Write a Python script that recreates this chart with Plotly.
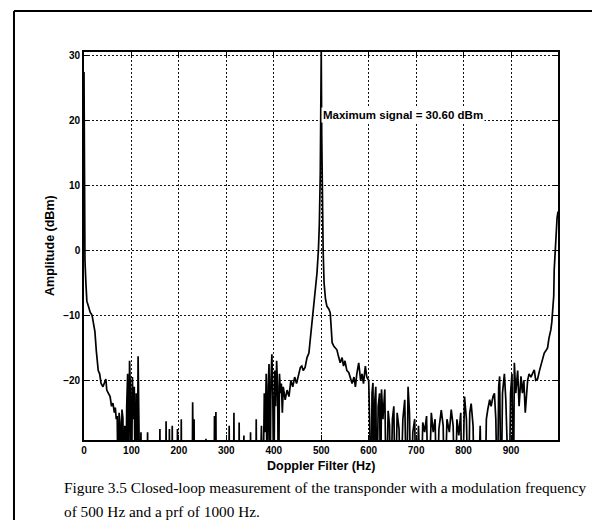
import plotly.graph_objects as go

# Doppler filter spectrum (Hz vs dBm); -40 marks bins below the display floor
freq_hz = [
    0, 1, 2, 4, 6, 9, 13, 17, 20, 23, 26, 28, 30, 33, 36, 40, 43, 46, 48, 52,
    55, 58, 61, 64, 66, 68, 70, 72, 74, 76, 78, 80, 82, 84, 86, 88, 90, 92, 94, 96,
    98, 100, 102, 104, 106, 108, 110, 112, 114, 116, 118, 120, 122,
    133, 134, 135, 159, 160, 161, 172, 173, 174, 179, 180, 181, 185, 186, 187,
    196, 197, 198, 204, 205, 206, 228, 229, 230, 231, 232, 233, 256, 257, 258,
    274, 275, 276, 277, 278, 279, 305, 306, 307, 315, 316, 317, 326, 327, 328,
    336, 337, 338, 350, 351, 352, 362, 363, 364,
    370, 374, 377, 380, 382, 384, 386, 388, 390, 392, 394, 396, 398, 400, 402, 404,
    406, 408, 410, 412, 414, 416, 418, 420, 424, 428, 432, 436, 440, 444, 448, 452,
    456, 459, 462, 466, 470, 474, 477, 480, 484, 488, 491, 494, 496, 498, 499, 500,
    501, 502, 504, 506, 509, 512, 516, 519, 521, 523, 527, 530, 533, 537, 540, 544,
    547, 550, 554, 558, 561, 565, 569, 572, 575, 579, 583, 586, 589, 593, 596, 600,
    602, 603, 605, 607, 609, 611, 613, 615, 617, 620, 623, 625, 627, 630, 634, 637,
    641, 644, 646, 650, 653, 656, 660, 664, 667, 672, 676, 680, 683, 686, 689, 693,
    697, 700, 705, 710, 714, 718, 722, 726, 730, 732, 736, 740, 744, 748, 753, 757,
    760, 765, 770, 774, 778, 782, 786, 790, 794, 797, 802, 806, 810, 813, 816, 820,
    823, 830, 835, 838, 845, 848, 851, 855, 858, 862, 865, 868, 871, 874, 876, 879,
    882, 886, 889, 892, 896, 899, 902, 905, 907, 910, 914, 917, 921, 924, 927, 930,
    933, 935, 938, 942, 945, 949, 952, 956, 960, 963, 966, 970, 973, 977, 980, 984,
    986, 988, 990, 991, 993, 995, 997, 999,
]

amplitude_dbm = [
    27.5, 5, -1.5, -5, -7.8, -8.5, -9.5, -10, -11, -12.5, -15.5, -17.5, -18.5, -19, -20.5, -21, -20.5, -19.8, -21.5, -22,
    -22.5, -24, -23.5, -25, -24.2, -26, -25.5, -40, -25, -26.5, -40, -24.5, -25.8, -40, -27, -40, -24, -19, -40, -17,
    -22, -40, -19.5, -26, -21, -40, -22, -40, -16.3, -24, -40, -28, -40,
    -40, -28, -40, -40, -27.5, -40, -40, -26.3, -40, -40, -27.5, -40, -40, -27, -40,
    -40, -27.5, -40, -40, -26, -40, -40, -23.4, -40, -40, -26, -40, -40, -29, -40,
    -40, -25.5, -40, -40, -24.9, -40, -40, -27, -40, -40, -25, -40, -40, -26.5, -40,
    -40, -28.5, -40, -40, -28, -40, -40, -26, -40,
    -40, -27, -40, -22, -28, -19, -40, -21, -17.5, -40, -20, -16, -23, -40, -18.5, -24,
    -17, -21, -40, -19, -22, -20.5, -25, -21, -23, -21.5, -22.5, -20, -21, -19.5, -20.5, -19.4,
    -18, -17.8, -18.5, -18, -16.5, -15.8, -13.5, -11.7, -9.1, -6, -3.5, 0, 4, 12, 20, 30.6,
    18, 8, 0, -5, -7.5, -8.6, -9, -9.6, -12, -14.2, -14.8, -15, -15.3, -16.5, -17.3, -16.5,
    -17.8, -17, -18.5, -18.8, -19.4, -20.5, -19.5, -21, -19, -17.3, -20, -19, -20.5, -17.8, -19.5, -20,
    -26, -40, -40, -22, -20.4, -40, -23, -21, -40, -24, -22, -40, -21.4, -26, -21.4, -40,
    -24.7, -27, -40, -26, -24, -40, -25, -27.5, -40, -26, -23, -40, -21, -25, -40, -28,
    -26, -40, -27, -40, -26.5, -28, -25.5, -40, -27, -25, -28, -26, -40, -27.5, -24.6, -27,
    -40, -26, -28, -24.5, -27, -40, -26, -28.5, -25, -40, -22.5, -26, -40, -25, -23.6, -27,
    -40, -40, -27, -40, -40, -26, -24.5, -23, -24, -22.5, -22, -26, -40, -21, -19.4, -40,
    -22, -19, -23, -40, -40, -22, -19, -40, -17.3, -22, -18.5, -24, -19.4, -22, -20, -25,
    -21, -20, -19, -19.5, -19, -18.4, -20, -19.8, -18.5, -17.8, -17, -15.8, -15.5, -15, -13.5, -12.2,
    -11, -9.4, -7, -3, 0, 3, 5, 6,
]

x_ticks = [0, 100, 200, 300, 400, 500, 600, 700, 800, 900]
y_ticks = [-20, -10, 0, 10, 20, 30]
y_floor = -29.2

peak_dbm = max(amplitude_dbm)
peak_hz = freq_hz[amplitude_dbm.index(peak_dbm)]

fig = go.Figure(
    go.Scatter(
        x=freq_hz,
        y=amplitude_dbm,
        mode="lines",
        line=dict(color="black", width=1.7),
        hoverinfo="skip",
    )
)

tick_font = dict(family="Liberation Sans", size=10, color="black", weight="bold")
axis_common = dict(
    showline=True,
    linecolor="black",
    linewidth=1.6,
    mirror="ticks",
    ticks="inside",
    ticklen=5,
    tickcolor="black",
    showgrid=True,
    gridcolor="#111111",
    gridwidth=1.3,
    griddash="1.5px,2.5px",
    zeroline=False,
    tickfont=tick_font,
)

fig.update_xaxes(range=[0, 999], tickvals=x_ticks, **axis_common)
fig.update_yaxes(range=[y_floor, peak_dbm], tickvals=y_ticks, **axis_common)

bold_label = dict(family="Liberation Sans", size=12.5, color="black", weight="bold")
caption_font = dict(family="Liberation Serif", size=15.3, color="black")

fig.update_layout(
    width=592,
    height=520,
    margin=dict(l=84, r=34, t=52, b=80),
    paper_bgcolor="white",
    plot_bgcolor="white",
    showlegend=False,
    annotations=[
        dict(
            x=peak_hz, y=20, xref="x", yref="y",
            text=f"Maximum signal = {peak_dbm:.2f} dBm",
            showarrow=False, xanchor="left", yanchor="bottom", yshift=-2,
            font=dict(family="Liberation Sans", size=11.5, color="black", weight="bold"),
            bgcolor="white",
        ),
        dict(
            x=0.5, y=-0.067, xref="paper", yref="paper",
            text="Doppler Filter (Hz)", showarrow=False,
            xanchor="center", yanchor="middle", font=bold_label,
        ),
        dict(
            x=-0.0717, y=0.5, xref="paper", yref="paper",
            text="Amplitude (dBm)", showarrow=False, textangle=-90,
            xanchor="center", yanchor="middle", font=bold_label,
        ),
        dict(
            x=-0.0464, y=-0.1237, xref="paper", yref="paper",
            text="Figure 3.5 Closed-loop measurement of the transponder with a modulation frequency",
            showarrow=False, xanchor="left", yanchor="middle", font=caption_font,
        ),
        dict(
            x=-0.0464, y=-0.183, xref="paper", yref="paper",
            text="of 500 Hz and a prf of 1000 Hz.",
            showarrow=False, xanchor="left", yanchor="middle", font=caption_font,
        ),
    ],
    shapes=[
        # page frame: left and top rules
        dict(type="line", xref="paper", yref="paper",
             x0=-0.1477, x1=-0.1477, y0=1.1057, y1=-0.25,
             line=dict(color="black", width=2)),
        dict(type="line", xref="paper", yref="paper",
             x0=-0.1477, x1=1.1, y0=1.1057, y1=1.1057,
             line=dict(color="black", width=2)),
    ],
)

fig.write_html("out.html")
